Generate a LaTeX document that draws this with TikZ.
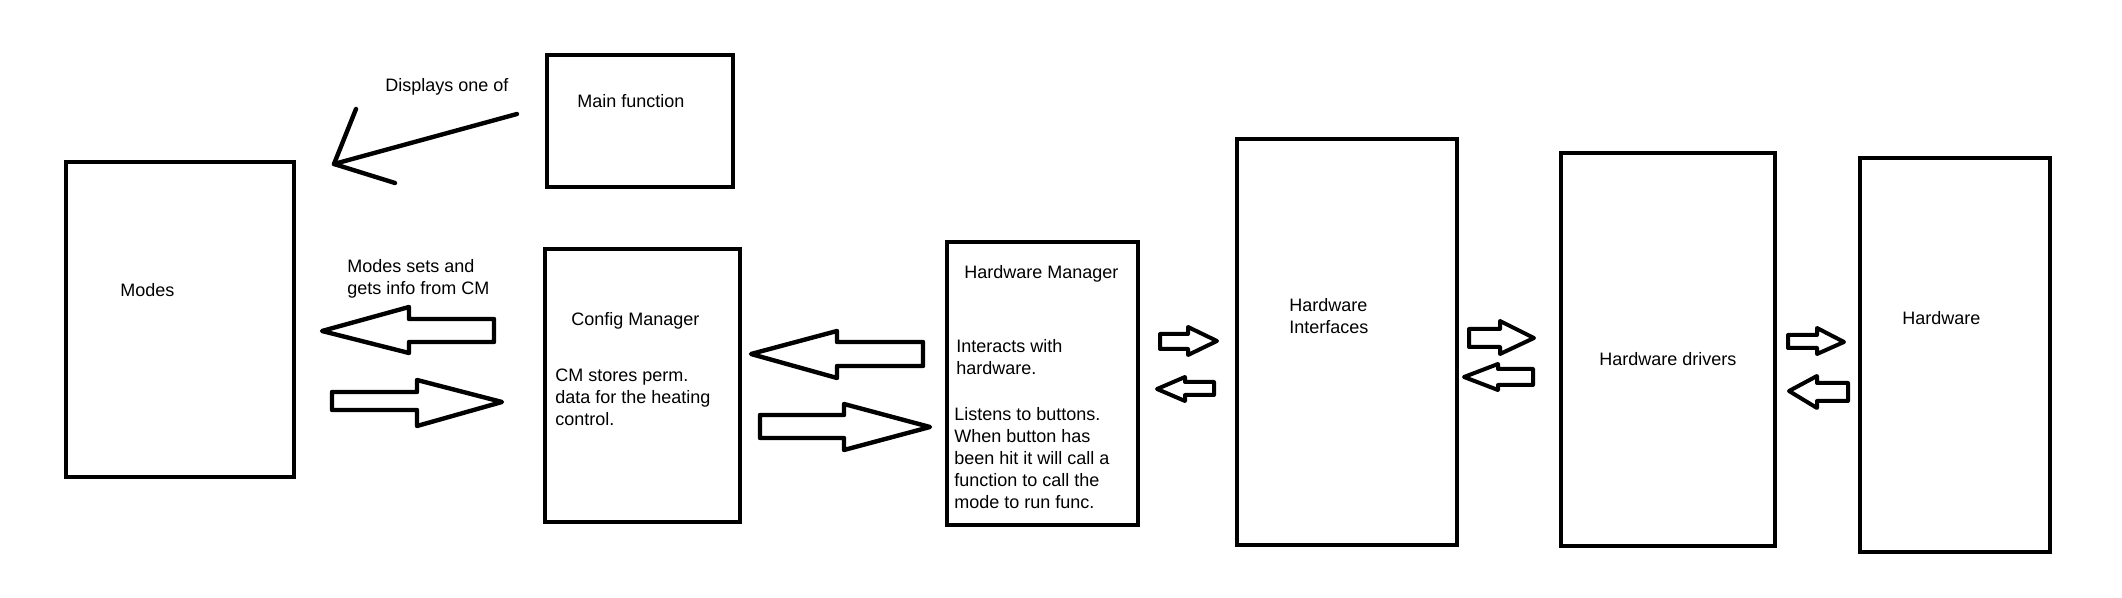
\documentclass[tikz,border=0pt]{standalone}
\usepackage{fontspec}
\setmainfont{Liberation Sans}
\begin{document}
\begin{tikzpicture}[x=0.5pt,y=-0.5pt,
  box/.style={draw=black,line width=2pt,fill=white},
  barrow/.style={draw=black,line width=2.2pt,line join=round},
  sarrow/.style={draw=black,line width=2pt,line join=round},
  lbl/.style={inner sep=0pt,font=\fontsize{9}{11}\selectfont,align=left},
  every node/.style={inner sep=0pt}]
\useasboundingbox (0,0) rectangle (2122,598);
% boxes
\draw[box] (66,162) rectangle (294,477);
\draw[box] (547,55) rectangle (733,187);
\draw[box] (545,249) rectangle (740,522);
\draw[box] (947,242) rectangle (1138,525);
\draw[box] (1237,139) rectangle (1457,545);
\draw[box] (1561,153) rectangle (1775,546);
\draw[box] (1860,158) rectangle (2050,552);
% texts
\node[lbl,anchor=base west] (tmodes) at (120,297) {Modes};
\node[lbl,anchor=base west] (tmain) at (577,108) {Main function};
\node[lbl,anchor=base west] (tdisp) at (385,92) {Displays one of};
\node[lbl,anchor=north west] (tsets) at (347,259) {Modes sets and\\gets info from CM};
\node[lbl,anchor=base west] (tcm) at (571,326) {Config Manager};
\node[lbl,anchor=north west] (tcmd) at (555,369) {CM stores perm.\\data for the heating\\control.};
\node[lbl,anchor=base west] (thm) at (964,279) {Hardware Manager};
\node[lbl,anchor=north west] (thmi) at (956,339) {Interacts with\\hardware.};
\node[lbl,anchor=north west] (thml) at (954,407) {Listens to buttons.\\When button has\\been hit it will call a\\function to call the\\mode to run func.};
\node[lbl,anchor=north west] (thi) at (1289,298) {Hardware\\Interfaces};
\node[lbl,anchor=base west] (thd) at (1599,366) {Hardware drivers};
\node[lbl,anchor=base west] (th) at (1902,325) {Hardware};
% line arrow "Displays one of"
\coordinate (la1) at (517,114);
\coordinate (la2) at (334,164);
\draw[line width=2.2pt,line cap=round,line join=round] (la1) -- (la2);
\draw[line width=2.2pt,line cap=round,line join=round] (356,109) -- (la2) -- (395,183);
% big block arrows
\draw[barrow] (322,331) -- (409,307) -- (409,319) -- (494,319) -- (494,342) -- (409,342) -- (409,353) -- cycle;
\draw[barrow] (332,392) -- (417,392) -- (417,380) -- (502,402) -- (417,426) -- (417,410) -- (332,410) -- cycle;
\draw[barrow] (751,354) -- (837,331) -- (837,342) -- (923,342) -- (923,366) -- (837,366) -- (837,378) -- cycle;
\draw[barrow] (760,415) -- (844,415) -- (844,404) -- (930,427) -- (844,450) -- (844,438) -- (760,438) -- cycle;
% small block arrows
\draw[sarrow] (1160,334) -- (1188,334) -- (1188,327) -- (1217,341) -- (1188,355) -- (1188,349) -- (1160,349) -- cycle;
\draw[sarrow] (1157,389) -- (1185,377) -- (1185,382) -- (1214,382) -- (1214,395) -- (1185,395) -- (1185,401) -- cycle;
\draw[sarrow] (1469,329) -- (1500,329) -- (1500,321) -- (1534,338) -- (1500,354) -- (1500,347) -- (1469,347) -- cycle;
\draw[sarrow] (1464,377) -- (1498,364) -- (1498,369) -- (1533,369) -- (1533,385) -- (1498,385) -- (1498,390) -- cycle;
\draw[sarrow] (1788,335) -- (1817,335) -- (1817,328) -- (1844,342) -- (1817,354) -- (1817,348) -- (1788,348) -- cycle;
\draw[sarrow] (1789,391) -- (1817,376) -- (1817,383) -- (1848,383) -- (1848,401) -- (1817,401) -- (1817,408) -- cycle;
\end{tikzpicture}
\end{document}
